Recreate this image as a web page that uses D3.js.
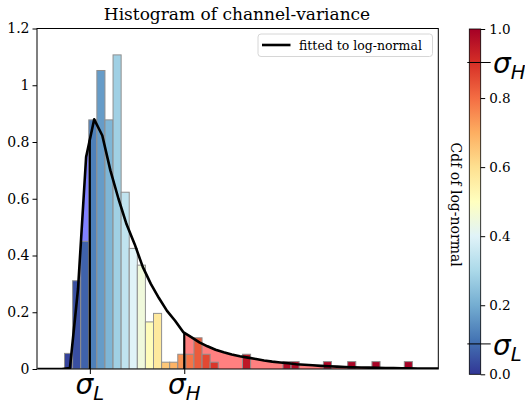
<!DOCTYPE html>
<html>
<head>
<meta charset="utf-8">
<script src="https://cdn.jsdelivr.net/npm/d3@7"></script>
<style>
  html, body { margin: 0; padding: 0; background: #fff; }
  svg { display: block; }
  text { font-family: "DejaVu Serif", serif; fill: #000; }
  .math { font-family: "DejaVu Sans", sans-serif; font-style: italic; }
</style>
</head>
<body>
<svg id="chart" width="525" height="406"></svg>
<script>
// ---- data -------------------------------------------------------------
// histogram (density) of channel variance, equal-width bins
const binStart = 0.34;
const binWidth = 0.1;
const binHeights = [
  0.055, 0.311, 0.450, 0.878, 1.052, 0.878, 1.107, 0.623, 0.425, 0.366,
  0.166, 0.196, 0.024, 0.024, 0.052, 0.052, 0.110, 0.052, 0.024, 0,
  0,     0,     0.052, 0,     0,     0,     0,     0.026, 0.026, 0,
  0,     0,     0.026, 0,     0,     0.026, 0,     0,     0.026, 0,
  0,     0,     0.026
];
// log-normal cdf at each bin (drives the bin colour)
const binCdf = [
  0.02, 0.04, 0.07, 0.12, 0.17, 0.22, 0.28, 0.34, 0.40, 0.45,
  0.51, 0.57, 0.65, 0.69, 0.74, 0.79, 0.83, 0.86, 0.89, 0.91,
  0.93, 0.94, 0.95, 0.955, 0.96, 0.965, 0.97, 0.975, 0.978, 0.98,
  0.982, 0.984, 0.985, 0.987, 0.988, 0.99, 0.991, 0.992, 0.993, 0.994,
  0.995, 0.995, 0.996
];
// fitted log-normal density, sampled on a regular grid
const curveStart = 0.007;
const curveStep = 0.1;
const curveDensity = [
  0, 0, 0, 0, 0.003, 0.282, 0.747, 0.880, 0.823, 0.700,
  0.600, 0.510, 0.440, 0.360, 0.300, 0.250, 0.205, 0.170, 0.130, 0.112,
  0.094, 0.080, 0.068, 0.059, 0.051, 0.045, 0.040, 0.035, 0.030, 0.026,
  0.023, 0.020, 0.017, 0.015, 0.013, 0.011, 0.0095, 0.0083, 0.0072, 0.0062,
  0.0054, 0.0047, 0.0041, 0.0035, 0.0030, 0.0026, 0.0022, 0.0019, 0.0016, 0.0014,
  0.0012
];
// thresholds on the variance axis and their cdf levels
const sigmaL = 0.653, sigmaH = 1.820;
const cdfL = 0.088, cdfH = 0.903;

const yTicks = [0, 0.2, 0.4, 0.6, 0.8, 1.0, 1.2];
const yTickLabels = ["0", "0.2", "0.4", "0.6", "0.8", "1", "1.2"];
const cbarTicks = [0, 0.2, 0.4, 0.6, 0.8, 1.0];
const rdylbu = ["#313695", "#4575b4", "#74add1", "#abd9e9", "#e0f3f8", "#ffffbf",
                "#fee090", "#fdae61", "#f46d43", "#d73027", "#a50026"];

// ---- layout -----------------------------------------------------------
const svg = d3.select("#chart");
const plot = { left: 37, right: 438.3, top: 28.5, bottom: 369 };
const cbar = { left: 469.3, right: 480.7, top: 29, bottom: 374.3 };

const x = d3.scaleLinear().domain([0, 4.96]).range([plot.left, plot.right]);
const y = d3.scaleLinear().domain([0, 1.2]).range([plot.bottom, plot.top]);
const color = d3.scaleLinear()
  .domain(d3.range(rdylbu.length).map(i => i / (rdylbu.length - 1)))
  .range(rdylbu)
  .interpolate(d3.interpolateRgb);

svg.append("defs").append("clipPath").attr("id", "plotClip")
  .append("rect")
  .attr("x", plot.left).attr("y", plot.top)
  .attr("width", plot.right - plot.left).attr("height", plot.bottom - plot.top);

const curvePts = curveDensity.map((v, i) => [curveStart + i * curveStep, v]);

function valueAt(xv) {
  for (let i = 0; i < curvePts.length - 1; i++) {
    const [x0, y0] = curvePts[i], [x1, y1] = curvePts[i + 1];
    if (xv >= x0 && xv <= x1) return y0 + (y1 - y0) * (xv - x0) / (x1 - x0);
  }
  return 0;
}

const g = svg.append("g").attr("clip-path", "url(#plotClip)");

// shaded tails under the fitted curve
const area = d3.area().x(d => x(d[0])).y0(y(0)).y1(d => y(d[1]));
const lowPts = curvePts.filter(d => d[0] < sigmaL).concat([[sigmaL, valueAt(sigmaL)]]);
const highPts = [[sigmaH, valueAt(sigmaH)]].concat(curvePts.filter(d => d[0] > sigmaH));
g.append("path").attr("d", area(lowPts)).attr("fill", "rgb(128,128,255)");
g.append("path").attr("d", area(highPts)).attr("fill", "rgb(255,128,128)");

// histogram bars
const bins = binHeights.map((h, i) => ({
  x0: binStart + i * binWidth, x1: binStart + (i + 1) * binWidth, h, c: binCdf[i]
})).filter(d => d.h > 0);
g.selectAll("rect.bar").data(bins).join("rect")
  .attr("class", "bar")
  .attr("x", d => x(d.x0))
  .attr("width", d => x(d.x1) - x(d.x0))
  .attr("y", d => y(d.h))
  .attr("height", d => y(0) - y(d.h))
  .attr("fill", d => color(d.c))
  .attr("stroke", "#8f8f8f")
  .attr("stroke-width", 1);

// fitted curve
g.append("path")
  .attr("d", d3.line().x(d => x(d[0])).y(d => y(d[1]))(curvePts))
  .attr("fill", "none").attr("stroke", "#000").attr("stroke-width", 2.6)
  .attr("stroke-linejoin", "round");

// threshold markers
[sigmaL, sigmaH].forEach(s => {
  g.append("line")
    .attr("x1", x(s)).attr("x2", x(s))
    .attr("y1", y(0)).attr("y2", y(valueAt(s)))
    .attr("stroke", "#000").attr("stroke-width", 2.2);
});

// frame
svg.append("rect")
  .attr("x", plot.left).attr("y", plot.top)
  .attr("width", plot.right - plot.left).attr("height", plot.bottom - plot.top)
  .attr("fill", "none").attr("stroke", "#000").attr("stroke-width", 1);

// y axis
const yAxis = d3.axisLeft(y).tickValues(yTicks)
  .tickFormat((d, i) => yTickLabels[i]).tickSize(4.5).tickPadding(3);
const ya = svg.append("g").attr("transform", `translate(${plot.left},0)`).call(yAxis);
ya.select(".domain").remove();
ya.selectAll("text").attr("font-family", "DejaVu Serif").attr("font-size", 14).attr("fill", "#000");
ya.selectAll("line").attr("stroke", "#000");

// x axis: only the two thresholds are labelled
const xAxis = d3.axisBottom(x).tickValues([sigmaL, sigmaH]).tickFormat("").tickSize(5);
const xa = svg.append("g").attr("transform", `translate(0,${plot.bottom})`).call(xAxis);
xa.select(".domain").remove();
xa.selectAll("line").attr("stroke", "#000");

function sigmaLabel(sel, sub) {
  sel.append("tspan").text("σ");
  sel.append("tspan").attr("font-size", 19.6).attr("dy", 6).text(sub);
}
[[sigmaL, "L"], [sigmaH, "H"]].forEach(([s, sub]) => {
  const t = svg.append("text").attr("class", "math")
    .attr("x", x(s)).attr("y", 394).attr("text-anchor", "middle")
    .attr("font-size", 28);
  sigmaLabel(t, sub);
});

// title
svg.append("text").attr("x", 237).attr("y", 20).attr("text-anchor", "middle")
  .attr("font-size", 17).text("Histogram of channel-variance");

// legend
const lg = svg.append("g");
lg.append("rect").attr("x", 258).attr("y", 34).attr("width", 174.5).attr("height", 22.5)
  .attr("rx", 3).attr("fill", "#fff").attr("stroke", "#d6d6d6").attr("stroke-width", 1);
lg.append("line").attr("x1", 262).attr("x2", 290.5).attr("y1", 45).attr("y2", 45)
  .attr("stroke", "#000").attr("stroke-width", 2.6);
lg.append("text").attr("x", 299).attr("y", 49.5).attr("font-size", 12.5).text("fitted to log-normal");

// colorbar
const grad = svg.select("defs").append("linearGradient").attr("id", "cbarGrad")
  .attr("x1", 0).attr("x2", 0).attr("y1", 1).attr("y2", 0);
color.domain().forEach(v => {
  grad.append("stop").attr("offset", v).attr("stop-color", color(v));
});
svg.append("rect")
  .attr("x", cbar.left).attr("y", cbar.top)
  .attr("width", cbar.right - cbar.left).attr("height", cbar.bottom - cbar.top)
  .attr("fill", "url(#cbarGrad)").attr("stroke", "#000").attr("stroke-width", 0.8);

const cy = d3.scaleLinear().domain([0, 1]).range([cbar.bottom, cbar.top]);
const cAxis = d3.axisRight(cy).tickValues(cbarTicks).tickFormat(d3.format(".1f"))
  .tickSize(4.5).tickPadding(4);
const ca = svg.append("g").attr("transform", `translate(${cbar.right},0)`).call(cAxis);
ca.select(".domain").remove();
ca.selectAll("text").attr("font-family", "DejaVu Serif").attr("font-size", 13.5).attr("fill", "#000");
ca.selectAll("line").attr("stroke", "#000");

[[cdfL, "L"], [cdfH, "H"]].forEach(([c, sub]) => {
  svg.append("line")
    .attr("x1", cbar.left - 2).attr("x2", cbar.right + 10)
    .attr("y1", cy(c)).attr("y2", cy(c))
    .attr("stroke", "#000").attr("stroke-width", 1);
  const t = svg.append("text").attr("class", "math")
    .attr("x", 493).attr("y", cy(c) + 11).attr("font-size", 28);
  sigmaLabel(t, sub);
});

svg.append("text")
  .attr("transform", `translate(451,${(cbar.top + cbar.bottom) / 2 + 3}) rotate(90)`)
  .attr("text-anchor", "middle").attr("font-size", 14)
  .text("Cdf of log-normal");
</script>
</body>
</html>
